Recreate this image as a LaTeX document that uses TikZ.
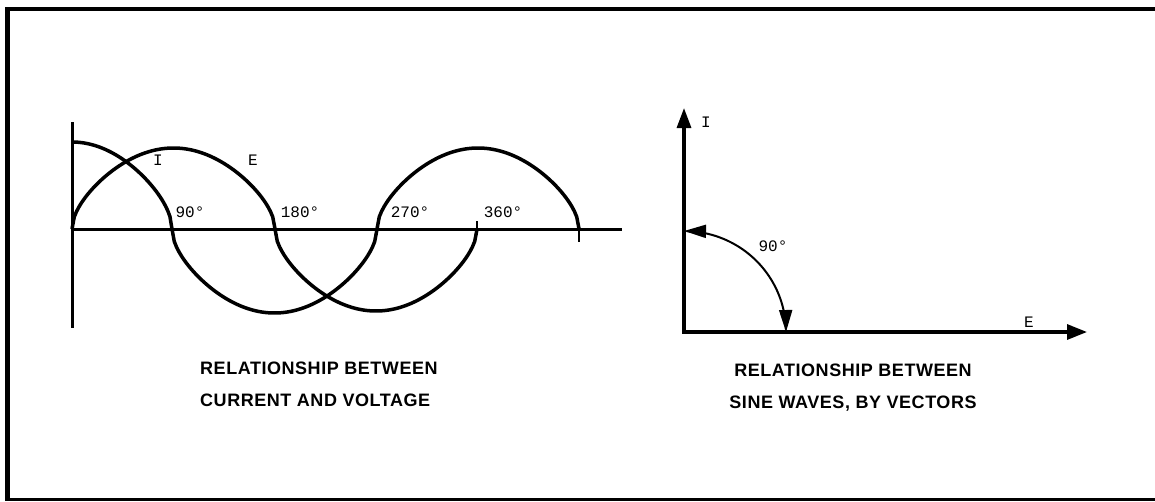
\documentclass[tikz,border=0pt]{standalone}
\usepackage{fontspec}
\setmainfont{Liberation Sans}
\newfontfamily\titlefont[LetterSpace=3]{Liberation Sans}
\newfontfamily\plotfont{Liberation Mono}
\usetikzlibrary{arrows.meta}
\begin{document}
\begin{tikzpicture}[x=1pt,y=-1pt,
  declare function={archf(\u)=0.25*abs(sin(\u))+0.75*sqrt(abs(sin(\u)));},
  frame/.style={line width=#1, line cap=butt},
  wave/.style={line width=3.5pt, line join=round},
  axisline/.style={line width=3pt},
  vecaxis/.style={line width=3.2pt, {Triangle[length=20pt,width=14pt]}-{Triangle[length=20pt,width=15pt]}},
  anglearc/.style={line width=2pt, {Triangle[length=22pt 0 0,width=13pt 0 0]}-{Triangle[length=22pt 0 0,width=13pt 0 0]}},
  lbl/.style={font=\plotfont\fontsize{16}{16}\selectfont, inner sep=0pt},
  ttl/.style={font=\titlefont\bfseries\fontsize{18}{32}\selectfont, inner sep=0pt}]
\useasboundingbox (0,0) rectangle (1155,501);
% frame (three sides visible)
\coordinate (f1) at (5,9);
\coordinate (f2) at (1155,9);
\coordinate (f3) at (7.5,7);
\coordinate (f4) at (7.5,501);
\coordinate (f5) at (5,499.5);
\coordinate (f6) at (1155,499.5);
\draw[frame=4.5pt] (f1) -- (f2);
\draw[frame=5pt] (f3) -- (f4);
\draw[frame=3pt] (f5) -- (f6);
% left graph axes
\coordinate (vt) at (72,122);
\coordinate (vb) at (72,328);
\coordinate (ho) at (70.5,229);
\coordinate (he) at (622,229);
\draw[axisline] (vt) -- (vb);
\draw[axisline] (ho) -- (he);
% E wave (sine-like arches)
\draw[wave] plot[domain=0:180,samples=90] ({72+\x/180*203},{229-81*archf(\x)})
  -- plot[domain=0:180,samples=90] ({275+\x/180*202},{229+82*archf(\x)});
% I wave (cosine-like arches)
\draw[wave] plot[domain=90:180,samples=50] ({72+(\x-90)/90*100},{229-87*archf(\x)})
  -- plot[domain=0:180,samples=90] ({172+\x/180*205},{229+84*archf(\x)})
  -- plot[domain=0:180,samples=90] ({377+\x/180*202},{229-81*archf(\x)});
% end ticks
\coordinate (t1a) at (477,221);
\coordinate (t1b) at (477,231);
\coordinate (t2a) at (579,229);
\coordinate (t2b) at (579,242);
\draw[line width=2.5pt] (t1a) -- (t1b);
\draw[line width=2.5pt] (t2a) -- (t2b);
% wave labels
\node[lbl] (li) at (158,160) {I};
\node[lbl] (le) at (253,160) {E};
\node[lbl] (d90) at (190,212) {90°};
\node[lbl] (d180) at (300,212) {180°};
\node[lbl] (d270) at (410,212) {270°};
\node[lbl] (d360) at (503,212) {360°};
% vector diagram
\coordinate (O) at (684,332);
\coordinate (Itip) at (684,108);
\coordinate (Etip) at (1087,332);
\draw[vecaxis] (Itip) -- (O) -- (Etip);
\draw[anglearc] plot[domain=90:0,samples=60] ({684+102*cos(\x)},{332-101*sin(\x)});
\node[lbl] (vi) at (706,122) {I};
\node[lbl] (ve) at (1029,322) {E};
\node[lbl] (va) at (773,246) {90°};
% titles
\node[ttl, anchor=west, align=left] (t1) at (200,384) {RELATIONSHIP BETWEEN\\CURRENT AND VOLTAGE};
\node[ttl, align=center] (t2) at (853,388) {RELATIONSHIP BETWEEN\\SINE WAVES, BY VECTORS};
\end{tikzpicture}
\end{document}
